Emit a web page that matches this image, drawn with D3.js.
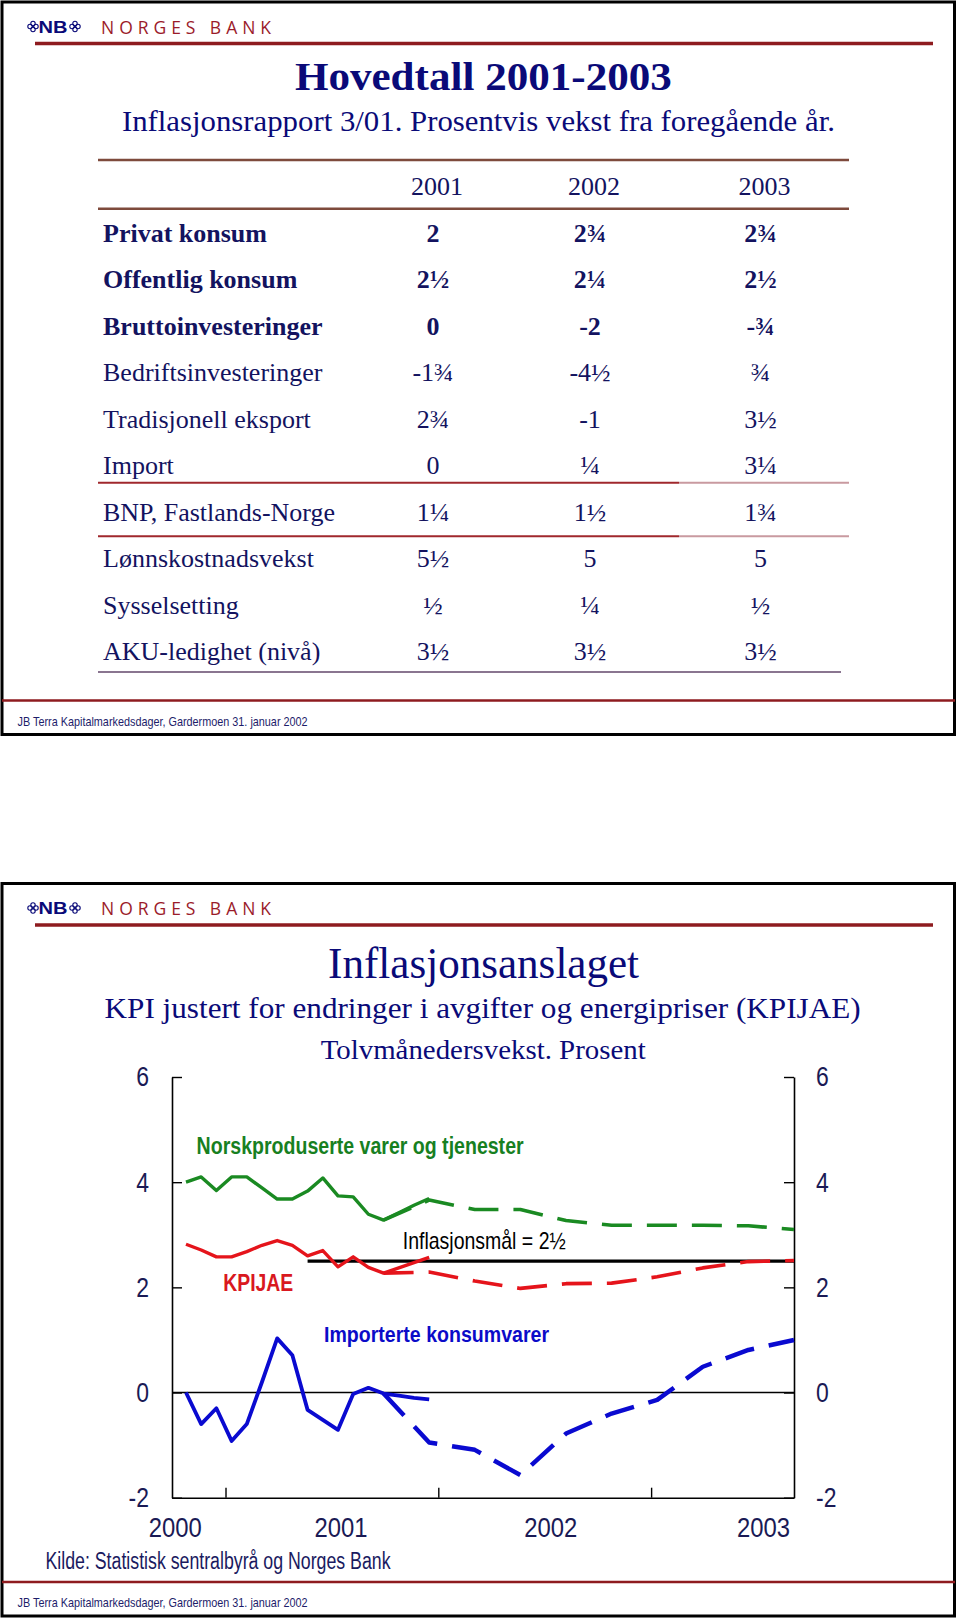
<!DOCTYPE html>
<html><head><meta charset="utf-8">
<script src="https://cdn.jsdelivr.net/npm/d3@7"></script>
<style>body{margin:0;background:#fff}svg{display:block}</style>
</head><body>
<svg id="c" width="960" height="1620"></svg>
<script>
// ---------- DATA: table ----------
const tableYears = ["2001", "2002", "2003"];
const tableRows = ["Privat konsum", "Offentlig konsum", "Bruttoinvesteringer", "Bedriftsinvesteringer",
  "Tradisjonell eksport", "Import", "BNP, Fastlands-Norge", "Lønnskostnadsvekst", "Sysselsetting", "AKU-ledighet (nivå)"];
const values2001 = ["2", "2½", "0", "-1¾", "2¾", "0", "1¼", "5½", "½", "3½"];
const values2002 = ["2¾", "2¼", "-2", "-4½", "-1", "¼", "1½", "5", "¼", "3½"];
const values2003 = ["2¾", "2½", "-¾", "¾", "3½", "3¼", "1¾", "5", "½", "3½"];

// ---------- DATA: chart (month index 0 = first observation) ----------
const actualMonths = [0, 1, 2, 3, 4, 5, 6, 7, 8, 9, 10, 11, 12, 13, 14, 15, 16];
const norskActual  = [4.00, 4.10, 3.84, 4.10, 4.10, 3.89, 3.68, 3.68, 3.83, 4.08, 3.74, 3.72, 3.39, 3.28, 3.42, 3.56, 3.69];
const kpijaeActual = [2.82, 2.71, 2.58, 2.58, 2.68, 2.80, 2.89, 2.80, 2.60, 2.70, 2.39, 2.58, 2.38, 2.27, 2.37, 2.47, 2.57];
const importActual = [0.00, -0.60, -0.30, -0.92, -0.60, 0.20, 1.03, 0.71, -0.33, -0.52, -0.71, -0.03, 0.09, -0.02, -0.06, -0.10, -0.13];
const forecastMonths = [13, 16, 19, 22, 25, 28, 31, 34, 37, 40];
const norskForecast  = [3.28, 3.66, 3.48, 3.48, 3.27, 3.18, 3.18, 3.18, 3.17, 3.10];
const kpijaeForecast = [2.27, 2.29, 2.12, 1.98, 2.07, 2.08, 2.20, 2.37, 2.49, 2.51];
const importForecast = [-0.02, -0.95, -1.09, -1.57, -0.78, -0.40, -0.14, 0.49, 0.81, 1.00];
const targetMonths = [8, 40];
const targetValue = 2.5;
const yTickValues = [-2, 0, 2, 4, 6];
const xTickMarks = [2.6, 16.6, 30.6];
const yearLabels = ["2000", "2001", "2002", "2003"];
const yearLabelPos = [-0.7, 10.2, 24.0, 38.0];

// ---------- STYLE ----------
const SERIF = "'Liberation Serif','Times New Roman',serif";
const NARROW = "'Liberation Sans Narrow','Arial Narrow','Liberation Sans',Arial,sans-serif";
const NAVY = "#0a0a78";
const TXT = "#13135f";
const DARKRED = "#8e1b1f";
const AXISTXT = "#1a1a55";

const svg = d3.select("#c");

function txt(g, o) {
  const t = g.append("text")
    .attr("x", o.x).attr("y", o.y)
    .attr("font-family", o.family || SERIF)
    .attr("font-size", o.size)
    .attr("font-weight", o.weight || "normal")
    .attr("fill", o.fill || TXT)
    .attr("text-anchor", o.anchor || "start")
    .text(o.text);
  if (o.len) t.attr("textLength", o.len).attr("lengthAdjust", o.adjust || "spacingAndGlyphs");
  return t;
}
// narrow-font width estimate for numeric labels (Arial Narrow metrics)
function narrowLen(s, size) {
  let w = 0;
  for (const ch of s) w += (ch === "-" ? 0.273 : 0.456) * size;
  return w;
}

function ornament(g, cx, cy) {
  const o = g.append("g").attr("fill", "none").attr("stroke", NAVY).attr("stroke-width", 1.1);
  [[-3, 0], [3, 0], [0, -3], [0, 3]].forEach(p => o.append("circle").attr("cx", cx + p[0]).attr("cy", cy + p[1]).attr("r", 2.2));
  g.append("circle").attr("cx", cx).attr("cy", cy).attr("r", 0.9).attr("fill", NAVY);
}

function slideFrame(dy) {
  const g = svg.append("g").attr("transform", `translate(0,${dy})`);
  g.append("rect").attr("x", 2).attr("y", 2).attr("width", 952.5).attr("height", 732.5)
    .attr("fill", "none").attr("stroke", "#000").attr("stroke-width", 3);
  ornament(g, 33, 26.5);
  txt(g, {x: 38.5, y: 32.5, text: "NB", size: 17, weight: "bold", family: "'Liberation Sans',Arial,sans-serif", fill: NAVY, len: 29});
  ornament(g, 75, 26.5);
  txt(g, {x: 101, y: 33.5, text: "NORGES BANK", size: 17.5, family: "'Open Sans','DejaVu Sans',sans-serif",
    fill: "#9b1b2a", len: 170, adjust: "spacing"});
  g.append("line").attr("x1", 35).attr("x2", 933).attr("y1", 43.5).attr("y2", 43.5)
    .attr("stroke", DARKRED).attr("stroke-width", 3.5);
  g.append("line").attr("x1", 2).attr("x2", 955).attr("y1", 700.6).attr("y2", 700.6)
    .attr("stroke", DARKRED).attr("stroke-width", 2.5);
  txt(g, {x: 17.6, y: 725.5, text: "JB Terra Kapitalmarkedsdager, Gardermoen 31. januar 2002",
    size: 13, family: NARROW, fill: "#1d1d6a", len: 290});
  return g;
}

// ================= SLIDE 1 =================
const s1 = slideFrame(0);
txt(s1, {x: 483.4, y: 90, text: "Hovedtall 2001-2003", size: 41, weight: "bold", fill: NAVY, anchor: "middle", len: 377});
txt(s1, {x: 478.4, y: 130.5, text: "Inflasjonsrapport 3/01. Prosentvis vekst fra foregående år.", size: 29,
  fill: NAVY, anchor: "middle", len: 713});

const rowY = d3.scaleLinear().domain([0, 10]).range([186, 651]);
const colX = d3.scaleOrdinal().domain(tableYears).range([433, 590, 760.5]);
const boldRows = 3;
const colValues = {"2001": values2001, "2002": values2002, "2003": values2003};

tableYears.forEach(yr => txt(s1, {x: colX(yr) + 4, y: rowY(0) + 9, text: yr, size: 26, anchor: "middle"}));
tableRows.forEach((r, i) => {
  const b = i < boldRows ? "bold" : "normal";
  txt(s1, {x: 103, y: rowY(i + 1) + 9, text: r, size: 26, weight: b});
  tableYears.forEach(yr => txt(s1, {x: colX(yr), y: rowY(i + 1) + 9, text: colValues[yr][i], size: 26, weight: b, anchor: "middle"}));
});
function rule(slot, x1, x2, col, w) {
  s1.append("line").attr("x1", x1).attr("x2", x2).attr("y1", rowY(slot)).attr("y2", rowY(slot))
    .attr("stroke", col).attr("stroke-width", w);
}
rule(-0.56, 98, 849, "#7e4a3c", 2.5);
rule(0.49, 98, 849, "#7e4a3c", 2.5);
rule(6.38, 98, 679, "#a0282d", 2);
rule(6.38, 679, 849, "#c99aa0", 2);
rule(7.53, 98, 679, "#a0282d", 2);
rule(7.53, 679, 849, "#c99aa0", 2);
rule(10.45, 98, 841, "#8a7590", 2);

// ================= SLIDE 2 =================
const D = 881.5;
const s2 = slideFrame(D);
txt(svg, {x: 483.6, y: 978, text: "Inflasjonsanslaget", size: 44, fill: NAVY, anchor: "middle", len: 311});
txt(svg, {x: 482.6, y: 1017.5, text: "KPI justert for endringer i avgifter og energipriser (KPIJAE)", size: 30,
  fill: NAVY, anchor: "middle", len: 756});
txt(svg, {x: 483.2, y: 1058.5, text: "Tolvmånedersvekst. Prosent", size: 28, fill: NAVY, anchor: "middle", len: 325});

const x = d3.scaleLinear().domain([-0.92, 40]).range([172, 794]);
const y = d3.scaleLinear().domain([-2, 6]).range([1497.7, 1077]);
const chart = svg.append("g");
const fmt = d => String(d);   // plain hyphen for negatives, as in the original

const axL = chart.append("g").attr("transform", `translate(${x.range()[0]},0)`)
  .call(d3.axisLeft(y).tickValues(yTickValues).tickSizeInner(-10).tickSizeOuter(0).tickPadding(23).tickFormat(fmt));
const axR = chart.append("g").attr("transform", `translate(${x.range()[1]},0)`)
  .call(d3.axisRight(y).tickValues(yTickValues).tickSizeInner(-10).tickSizeOuter(0).tickPadding(22).tickFormat(fmt));
const axB = chart.append("g").attr("transform", `translate(0,${y(-2)})`)
  .call(d3.axisBottom(x).tickValues(xTickMarks).tickSizeInner(-10).tickSizeOuter(0).tickFormat(""));
[axL, axR, axB].forEach(a => {
  a.selectAll("path.domain").attr("stroke", "#000").attr("stroke-width", 1.6);
  a.selectAll(".tick line").attr("stroke", "#000").attr("stroke-width", 1.4);
  a.selectAll(".tick text").attr("font-family", NARROW).attr("font-size", 28).attr("fill", AXISTXT)
    .attr("textLength", d => narrowLen(fmt(d), 28)).attr("lengthAdjust", "spacingAndGlyphs");
});
chart.append("line").attr("x1", x.range()[0]).attr("x2", x.range()[1]).attr("y1", y(0)).attr("y2", y(0))
  .attr("stroke", "#000").attr("stroke-width", 1.5);

chart.selectAll("text.year").data(yearLabels).enter().append("text").attr("class", "year")
  .attr("x", (d, i) => x(yearLabelPos[i])).attr("y", y(-2) + 39.5)
  .attr("text-anchor", "middle").attr("font-family", NARROW).attr("font-size", 28).attr("fill", AXISTXT)
  .attr("textLength", d => narrowLen(d, 28) + 2).attr("lengthAdjust", "spacingAndGlyphs")
  .text(d => d);

chart.append("line").attr("x1", x(targetMonths[0])).attr("x2", x(targetMonths[1]))
  .attr("y1", y(targetValue)).attr("y2", y(targetValue)).attr("stroke", "#000").attr("stroke-width", 3.2);

const line = d3.line().x(d => x(d[0])).y(d => y(d[1]));
const GREEN = "#1a8a22", RED = "#e5141b", BLUE = "#0a0ad0";
function series(months, vals, col, w, dash) {
  const p = chart.append("path").datum(months.map((m, i) => [m, vals[i]])).attr("d", line)
    .attr("fill", "none").attr("stroke", col).attr("stroke-width", w)
    .attr("stroke-linejoin", "round");
  if (dash) p.attr("stroke-dasharray", dash);
}
series(forecastMonths, norskForecast, GREEN, 3.6, "30,15");
series(actualMonths, norskActual, GREEN, 3.4);
series(forecastMonths, kpijaeForecast, RED, 3.6, "30,15");
series(actualMonths, kpijaeActual, RED, 3.4);
series(forecastMonths, importForecast, BLUE, 4.5, "30,15");
series(actualMonths, importActual, BLUE, 3.8);

txt(chart, {x: x(0.7), y: y(4.53), text: "Norskproduserte varer og tjenester", size: 23, weight: "bold",
  family: NARROW, fill: "#17801f", len: 327});
txt(chart, {x: x(2.45), y: y(1.94), text: "KPIJAE", size: 23, weight: "bold", family: NARROW, fill: "#d91820", len: 70});
txt(chart, {x: x(9.08), y: y(0.97), text: "Importerte konsumvarer", size: 22, weight: "bold", family: NARROW,
  fill: "#0b0bc8", len: 225});
txt(chart, {x: x(14.26), y: y(2.72), text: "Inflasjonsmål = 2½", size: 24, family: NARROW, fill: "#000", len: 163});

txt(svg, {x: 45.5, y: 1569, text: "Kilde: Statistisk sentralbyrå og Norges Bank", size: 23, family: NARROW,
  fill: "#1a1a60", len: 345});
</script>
</body></html>
